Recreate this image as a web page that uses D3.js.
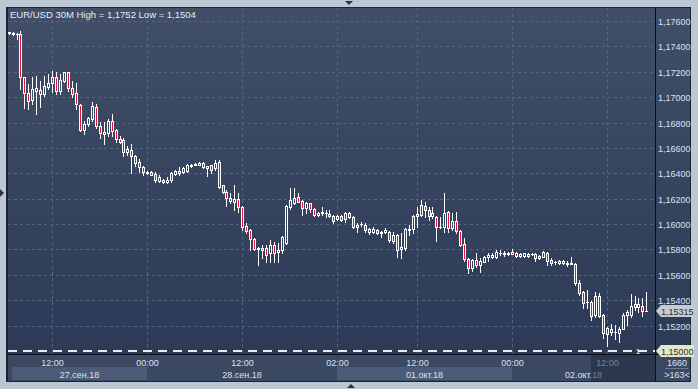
<!DOCTYPE html>
<html>
<head>
<meta charset="utf-8">
<title>EUR/USD 30M</title>
<script src="https://d3js.org/d3.v7.min.js"></script>
<style>
  body { margin: 0; background: #bcc7d4; }
  svg { display: block; font-family: "Liberation Sans", Arial, sans-serif; }
</style>
</head>
<body>
<svg width="698" height="389"></svg>

<script>
// EUR/USD 30 minute bars
const opens = [
  1.17508, 1.17496, 1.17496, 1.17496, 1.17157, 1.17030, 1.16975, 1.17046, 1.17054, 1.17022,
  1.17078, 1.17109, 1.17157, 1.17046, 1.17125, 1.17196, 1.17070, 1.17030, 1.16936, 1.16738,
  1.16785, 1.16825, 1.16920, 1.16770, 1.16710, 1.16714, 1.16809, 1.16738, 1.16667, 1.16659,
  1.16564, 1.16580, 1.16533, 1.16493, 1.16446, 1.16414, 1.16414, 1.16398, 1.16367, 1.16351,
  1.16335, 1.16351, 1.16398, 1.16406, 1.16414, 1.16422, 1.16458, 1.16465, 1.16469, 1.16485,
  1.16442, 1.16462, 1.16438, 1.16493, 1.16304, 1.16256, 1.16185, 1.16173, 1.16201, 1.16138,
  1.15988, 1.15956, 1.15885, 1.15814, 1.15798, 1.15814, 1.15774, 1.15837, 1.15782, 1.15798,
  1.15853, 1.16138, 1.16169, 1.16217, 1.16185, 1.16130, 1.16165, 1.16122, 1.16074, 1.16086,
  1.16090, 1.16082, 1.16067, 1.16043, 1.16067, 1.16043, 1.16090, 1.16059, 1.15980, 1.16003,
  1.15995, 1.15940, 1.15940, 1.15956, 1.15928, 1.15940, 1.15940, 1.15869, 1.15916, 1.15806,
  1.15814, 1.15956, 1.15964, 1.16063, 1.16074, 1.16146, 1.16114, 1.16067, 1.16059, 1.15976,
  1.15980, 1.16098, 1.15972, 1.16027, 1.15948, 1.15845, 1.15727, 1.15656, 1.15719, 1.15679,
  1.15703, 1.15743, 1.15743, 1.15743, 1.15770, 1.15766, 1.15762, 1.15766, 1.15774, 1.15751,
  1.15747, 1.15751, 1.15766, 1.15766, 1.15735, 1.15743, 1.15774, 1.15719, 1.15699, 1.15691,
  1.15711, 1.15695, 1.15683, 1.15687, 1.15537, 1.15466, 1.15383, 1.15387, 1.15284, 1.15434,
  1.15284, 1.15134, 1.15174, 1.15146, 1.15142, 1.15174, 1.15284, 1.15284, 1.15348, 1.15348,
  1.15356, 1.15316
];
const highs = [
  1.17516, 1.17512, 1.17504, 1.17520, 1.17157, 1.17101, 1.17157, 1.17165, 1.17125, 1.17165,
  1.17180, 1.17204, 1.17196, 1.17180, 1.17200, 1.17200, 1.17125, 1.17109, 1.16943, 1.16809,
  1.16841, 1.16959, 1.16943, 1.16801, 1.16801, 1.16825, 1.16864, 1.16746, 1.16691, 1.16675,
  1.16612, 1.16627, 1.16548, 1.16509, 1.16454, 1.16418, 1.16422, 1.16414, 1.16383, 1.16359,
  1.16367, 1.16414, 1.16430, 1.16446, 1.16446, 1.16473, 1.16477, 1.16485, 1.16493, 1.16493,
  1.16458, 1.16469, 1.16501, 1.16501, 1.16311, 1.16272, 1.16248, 1.16304, 1.16248, 1.16142,
  1.16011, 1.15964, 1.15893, 1.15818, 1.15837, 1.15837, 1.15877, 1.15861, 1.15853, 1.15909,
  1.16153, 1.16288, 1.16288, 1.16248, 1.16193, 1.16173, 1.16169, 1.16130, 1.16098, 1.16138,
  1.16114, 1.16114, 1.16070, 1.16074, 1.16074, 1.16094, 1.16098, 1.16063, 1.16011, 1.16019,
  1.16011, 1.15972, 1.15980, 1.15964, 1.15948, 1.15972, 1.15948, 1.15940, 1.15924, 1.15932,
  1.15972, 1.15995, 1.16074, 1.16138, 1.16193, 1.16177, 1.16138, 1.16138, 1.16067, 1.16059,
  1.16248, 1.16106, 1.16090, 1.16098, 1.15956, 1.15893, 1.15735, 1.15727, 1.15774, 1.15735,
  1.15751, 1.15774, 1.15774, 1.15794, 1.15798, 1.15790, 1.15782, 1.15806, 1.15782, 1.15774,
  1.15774, 1.15774, 1.15774, 1.15770, 1.15758, 1.15786, 1.15778, 1.15735, 1.15711, 1.15719,
  1.15719, 1.15711, 1.15743, 1.15695, 1.15561, 1.15470, 1.15482, 1.15395, 1.15466, 1.15458,
  1.15292, 1.15190, 1.15213, 1.15205, 1.15190, 1.15300, 1.15324, 1.15450, 1.15434, 1.15419,
  1.15419, 1.15466
];
const lows = [
  1.17500, 1.17492, 1.17457, 1.17062, 1.16912, 1.16904, 1.16943, 1.16864, 1.16920, 1.17007,
  1.17062, 1.17038, 1.17022, 1.17022, 1.17117, 1.17046, 1.16999, 1.16904, 1.16730, 1.16706,
  1.16770, 1.16809, 1.16754, 1.16675, 1.16627, 1.16691, 1.16691, 1.16643, 1.16635, 1.16533,
  1.16541, 1.16406, 1.16454, 1.16414, 1.16390, 1.16394, 1.16383, 1.16335, 1.16335, 1.16327,
  1.16323, 1.16335, 1.16390, 1.16390, 1.16406, 1.16414, 1.16450, 1.16462, 1.16462, 1.16438,
  1.16375, 1.16406, 1.16430, 1.16288, 1.16248, 1.16146, 1.16169, 1.16114, 1.16098, 1.15956,
  1.15932, 1.15798, 1.15798, 1.15679, 1.15735, 1.15703, 1.15703, 1.15703, 1.15703, 1.15774,
  1.15845, 1.16122, 1.16161, 1.16173, 1.16074, 1.16090, 1.16098, 1.16067, 1.16067, 1.16074,
  1.16059, 1.16059, 1.16011, 1.16035, 1.16027, 1.16019, 1.16051, 1.15972, 1.15940, 1.15988,
  1.15940, 1.15924, 1.15932, 1.15924, 1.15901, 1.15932, 1.15861, 1.15853, 1.15743, 1.15735,
  1.15798, 1.15916, 1.15932, 1.15980, 1.16067, 1.16059, 1.16035, 1.16051, 1.15869, 1.15968,
  1.15940, 1.15940, 1.15956, 1.15932, 1.15830, 1.15711, 1.15616, 1.15632, 1.15664, 1.15624,
  1.15699, 1.15711, 1.15735, 1.15735, 1.15758, 1.15751, 1.15754, 1.15762, 1.15743, 1.15743,
  1.15743, 1.15743, 1.15758, 1.15711, 1.15727, 1.15739, 1.15679, 1.15679, 1.15687, 1.15687,
  1.15687, 1.15671, 1.15683, 1.15521, 1.15442, 1.15340, 1.15340, 1.15245, 1.15269, 1.15269,
  1.15103, 1.15040, 1.15126, 1.15095, 1.15071, 1.15170, 1.15205, 1.15269, 1.15324, 1.15308,
  1.15277, 1.15312
];
const closes = [
  1.17512, 1.17504, 1.17500, 1.17157, 1.17030, 1.16967, 1.17062, 1.17070, 1.17022, 1.17086,
  1.17109, 1.17157, 1.17046, 1.17133, 1.17196, 1.17070, 1.17022, 1.16943, 1.16738, 1.16785,
  1.16833, 1.16928, 1.16770, 1.16714, 1.16722, 1.16809, 1.16730, 1.16667, 1.16643, 1.16564,
  1.16588, 1.16533, 1.16485, 1.16446, 1.16414, 1.16402, 1.16390, 1.16351, 1.16343, 1.16335,
  1.16351, 1.16406, 1.16422, 1.16422, 1.16438, 1.16469, 1.16469, 1.16477, 1.16481, 1.16446,
  1.16454, 1.16430, 1.16485, 1.16296, 1.16256, 1.16209, 1.16209, 1.16201, 1.16138, 1.15980,
  1.15948, 1.15885, 1.15806, 1.15802, 1.15814, 1.15758, 1.15837, 1.15774, 1.15798, 1.15901,
  1.16146, 1.16193, 1.16209, 1.16177, 1.16130, 1.16165, 1.16122, 1.16074, 1.16090, 1.16098,
  1.16090, 1.16063, 1.16027, 1.16067, 1.16035, 1.16090, 1.16059, 1.15980, 1.15995, 1.16003,
  1.15956, 1.15960, 1.15960, 1.15932, 1.15940, 1.15956, 1.15877, 1.15916, 1.15798, 1.15822,
  1.15964, 1.15960, 1.16067, 1.16082, 1.16153, 1.16114, 1.16067, 1.16090, 1.15980, 1.15980,
  1.16090, 1.15972, 1.16027, 1.15944, 1.15837, 1.15727, 1.15656, 1.15719, 1.15679, 1.15711,
  1.15743, 1.15758, 1.15758, 1.15782, 1.15774, 1.15774, 1.15770, 1.15782, 1.15751, 1.15766,
  1.15770, 1.15766, 1.15766, 1.15735, 1.15751, 1.15782, 1.15711, 1.15695, 1.15699, 1.15711,
  1.15691, 1.15683, 1.15691, 1.15537, 1.15458, 1.15379, 1.15383, 1.15277, 1.15434, 1.15277,
  1.15142, 1.15182, 1.15150, 1.15146, 1.15174, 1.15284, 1.15308, 1.15356, 1.15371, 1.15367,
  1.15316, 1.15315
];

const priceTicks = [1.150, 1.152, 1.154, 1.156, 1.158, 1.160, 1.162, 1.164, 1.166, 1.168, 1.170, 1.172, 1.174, 1.176];
const timeTickIdx = [11, 35, 59, 83, 103, 127, 151];
const timeTickLabels = ["12:00", "00:00", "12:00", "02:00", "12:00", "00:00", "12:00"];
const dayStartIdx = [1, 35, 83, 127];
const dayLabels = ["27.сен.18", "28.сен.18", "01.окт.18", "02.окт.18"];
const levelPrice = 1.15000;
const barsInfo = ["1660", ">163<"];

const svg = d3.select("svg");
const N = closes.length;
const plot = {left: 8, right: 655, top: 8, bottom: 354};
const panelRight = 690, panelBottom = 381;

const x = d3.scaleLinear().domain([0, N - 1]).range([8.6, 646.4]);
const y = d3.scaleLinear().domain([1.150, 1.176]).range([351, 21]);
const px = i => Math.round(x(i));

const comma = d3.formatLocale({decimal: ",", thousands: " ", grouping: [3], currency: ["", ""]});
const fmt5 = comma.format(".5f"), fmt4 = comma.format(".4f");

const textCol = "#d6e2f4";

// gradient + clip
const defs = svg.append("defs");
const grad = defs.append("linearGradient").attr("id", "bg").attr("x1", 0).attr("y1", 0).attr("x2", 0).attr("y2", 1);
grad.append("stop").attr("offset", "0%").attr("stop-color", "#414e67");
grad.append("stop").attr("offset", "100%").attr("stop-color", "#2c3956");
defs.append("clipPath").attr("id", "plotClip").append("rect")
  .attr("x", plot.left).attr("y", plot.top)
  .attr("width", plot.right - plot.left).attr("height", plot.bottom - plot.top);

// outer frame
svg.append("rect").attr("width", 698).attr("height", 389).attr("fill", "#bcc7d4");
svg.append("rect").attr("x", 6).attr("y", 7).attr("width", panelRight - 5).attr("height", panelBottom - 6).attr("fill", "#1d2431");
svg.append("rect").attr("x", plot.left).attr("y", plot.top)
  .attr("width", panelRight - plot.left).attr("height", panelBottom - plot.top).attr("fill", "url(#bg)");

// splitter arrows
svg.append("path").attr("d", "M345,1L353,1L349,5Z").attr("fill", "#2e333b");
svg.append("path").attr("d", "M347,388L355,388L351,384Z").attr("fill", "#2e333b");
svg.append("path").attr("d", "M0,189L0,197L4,193Z").attr("fill", "#2e333b");

// bottom axis area
svg.append("rect").attr("x", plot.left).attr("y", plot.bottom + 1)
  .attr("width", panelRight - plot.left).attr("height", panelBottom - plot.bottom - 1).attr("fill", "#3b4862");

dayStartIdx.forEach((s, k) => {
  const x0 = k === 0 ? px(s) - 1 : px(s);
  const x1 = k < dayStartIdx.length - 1 ? px(dayStartIdx[k + 1]) : plot.right;
  svg.append("rect").attr("x", x0).attr("y", 367).attr("width", x1 - x0).attr("height", 13)
    .attr("fill", k % 2 === 0 ? "#4d5c76" : "#3b4862");
  svg.append("text").attr("x", (x0 + x1) / 2).attr("y", 377.5).attr("text-anchor", "middle")
    .attr("font-size", 9).attr("fill", textCol).text(dayLabels[k]);
});

svg.append("g").selectAll("text").data(timeTickIdx).join("text")
  .attr("x", d => px(d) + 0.5).attr("y", 365.5).attr("text-anchor", "middle")
  .attr("font-size", 9).attr("fill", textCol).text((d, k) => timeTickLabels[k]);

// darker overlay at the right end of the time axis
svg.append("rect").attr("x", px(147)).attr("y", plot.bottom + 1)
  .attr("width", plot.right - px(147)).attr("height", panelBottom - plot.bottom - 1)
  .attr("fill", "#1f2a40").attr("opacity", 0.55);

// grid
const grid = svg.append("g").attr("clip-path", "url(#plotClip)")
  .attr("stroke", "#56657f").attr("stroke-dasharray", "3,3").attr("stroke-width", 1);
grid.selectAll(".hg").data(priceTicks.slice(1)).join("line").attr("class", "hg")
  .attr("x1", plot.left).attr("x2", plot.right)
  .attr("y1", d => Math.round(y(d)) + 0.5).attr("y2", d => Math.round(y(d)) + 0.5);
grid.selectAll(".vg").data(timeTickIdx).join("line").attr("class", "vg")
  .attr("x1", d => px(d) + 0.5).attr("x2", d => px(d) + 0.5)
  .attr("y1", plot.top).attr("y2", plot.bottom);

// title
svg.append("text").attr("x", 10).attr("y", 17.5).attr("font-size", 9.5).attr("fill", "#e6ecf4")
  .text("EUR/USD 30M  High = " + fmt4(d3.max(highs)) + " Low = " + fmt4(d3.min(lows)));

// level line
svg.append("line").attr("clip-path", "url(#plotClip)")
  .attr("x1", plot.left).attr("x2", plot.right)
  .attr("y1", Math.round(y(levelPrice))).attr("y2", Math.round(y(levelPrice)))
  .attr("stroke", "#e9edf3").attr("stroke-width", 2).attr("stroke-dasharray", "9,6");
svg.append("text").attr("x", 638).attr("y", Math.round(y(levelPrice)) + 2.5)
  .attr("font-size", 8).attr("text-anchor", "middle").attr("fill", "#ffffff").text("1");

// candles
const candles = d3.range(N).map(i => ({i, o: opens[i], h: highs[i], l: lows[i], c: closes[i]}));
const cg = svg.append("g").attr("clip-path", "url(#plotClip)");
const bars = cg.selectAll("g").data(candles).join("g");
bars.each(function(d) {
  const g = d3.select(this);
  const cx = px(d.i);
  const yTop = Math.round(y(Math.max(d.o, d.c)));
  const yBot = Math.round(y(Math.min(d.o, d.c)));
  const yH = Math.round(y(d.h)), yL = Math.round(y(d.l));
  if (yH < yTop) g.append("line").attr("x1", cx + 0.5).attr("x2", cx + 0.5).attr("y1", yH).attr("y2", yTop).attr("stroke", "#fff");
  if (yL > yBot) g.append("line").attr("x1", cx + 0.5).attr("x2", cx + 0.5).attr("y1", yBot + 1).attr("y2", yL + 1).attr("stroke", "#fff");
  if (yBot - yTop < 1) {
    g.append("line").attr("x1", cx - 1).attr("x2", cx + 2).attr("y1", yTop + 0.5).attr("y2", yTop + 0.5).attr("stroke", "#fff");
  } else {
    g.append("rect").attr("x", cx - 0.5).attr("y", yTop + 0.5).attr("width", 2).attr("height", yBot - yTop)
      .attr("fill", d.c < d.o ? "#e2143c" : "none").attr("stroke", "#fff").attr("stroke-width", 1);
  }
});

// axis lines
svg.append("line").attr("x1", plot.left).attr("x2", panelRight).attr("y1", plot.bottom + 0.5).attr("y2", plot.bottom + 0.5).attr("stroke", "#0b0e14");
svg.append("line").attr("x1", plot.right + 0.5).attr("x2", plot.right + 0.5).attr("y1", plot.top).attr("y2", panelBottom).attr("stroke", "#0b0e14");

// price labels
svg.append("g").selectAll("text").data(priceTicks.slice(1)).join("text")
  .attr("x", 658).attr("y", d => y(d) + 4).attr("font-size", 9).attr("fill", textCol).text(d => fmt5(d));

function tagLabel(price, fill) {
  const yy = Math.round(y(price));
  svg.append("path").attr("d", `M656,${yy}L661,${yy - 6}L694,${yy - 6}L694,${yy + 6}L661,${yy + 6}Z`).attr("fill", fill);
  svg.append("text").attr("x", 661).attr("y", yy + 3.5).attr("font-size", 9).attr("fill", "#2b2f36").text(fmt5(price));
}
tagLabel(closes[N - 1], "#c7cbd3");
tagLabel(levelPrice, "#e4e9cb");

// bar counter
svg.append("text").attr("x", 677).attr("y", 365.5).attr("text-anchor", "middle").attr("font-size", 9).attr("fill", textCol).text(barsInfo[0]);
svg.append("line").attr("x1", 665).attr("x2", 688).attr("y1", 368.5).attr("y2", 368.5).attr("stroke", "#6d7a92");
svg.append("text").attr("x", 677).attr("y", 377.5).attr("text-anchor", "middle").attr("font-size", 9).attr("fill", textCol).text(barsInfo[1]);
</script>
</body>
</html>
